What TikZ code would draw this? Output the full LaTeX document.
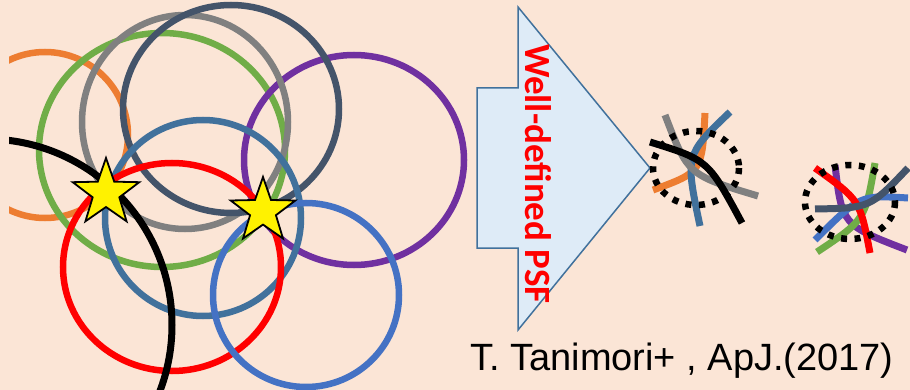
\documentclass[tikz,border=0pt]{standalone}
\usepackage{fontspec}
\setmainfont{Liberation Sans}
\newfontfamily\calib{Carlito}
\usetikzlibrary{shapes.geometric}
\definecolor{bgpeach}{HTML}{FBE5D6}
\definecolor{corange}{HTML}{ED7D31}
\definecolor{cgreen}{HTML}{70AD47}
\definecolor{cgray}{HTML}{808080}
\definecolor{cdark}{HTML}{44546A}
\definecolor{cpurple}{HTML}{7030A0}
\definecolor{csteel}{HTML}{41719C}
\definecolor{cred}{HTML}{FF0000}
\definecolor{cblue}{HTML}{4472C4}
\definecolor{afill}{HTML}{DEEBF7}
\tikzset{
  ring/.style={line width=6.5pt},
  zline/.style={line width=7pt},
  dotring/.style={line width=6.5pt, black, dash pattern=on 6pt off 7.5pt},
  starnode/.style={star, star points=5, star point ratio=2.5, minimum size=70pt, inner sep=0pt, draw=black, line width=1.8pt, fill=yellow},
  arrowbox/.style={fill=afill, draw=csteel, line width=1.5pt, line join=miter},
}
\begin{document}
\begin{tikzpicture}[x=1pt,y=-1pt]
\fill[bgpeach] (0,0) rectangle (910,390);
\useasboundingbox (0,0) rectangle (910,390);
% main circles
\begin{scope}
\clip (9,0) rectangle (475,390);
\draw[ring, corange] (45,135) ellipse [x radius=83, y radius=83];
\draw[ring, cgreen] (162,150) ellipse [x radius=123, y radius=117];
\draw[ring, cpurple] (354,160) ellipse [x radius=110, y radius=105];
\draw[ring, cgray] (185,122) ellipse [x radius=103, y radius=107];
\draw[ring, cdark] (231,109) ellipse [x radius=108, y radius=104];
\draw[ring, csteel] (203,218) ellipse [x radius=98, y radius=98];
\draw[ring, cred] (172,267) ellipse [x radius=109, y radius=104];
\draw[ring, cblue] (306,295) ellipse [x radius=93, y radius=92];
\draw[ring, black, line width=7pt] (-14,325) circle [radius=186];
\end{scope}
\node[starnode] (s1) at (106,193) {};
\node[starnode, minimum size=68pt] (s2) at (263,211) {};
% arrow
\path[arrowbox] (477,88) -- (518,88) -- (518,7) -- (650,168) -- (518,330) -- (518,248) -- (477,248) -- cycle;
\node[rotate=-90, anchor=base, text=cred, inner sep=0pt] (lbl) at (525,174) {\calib\bfseries\fontsize{37}{44}\selectfont Well-defined PSF};
% zoom image 1
\draw[zline, corange] (705,113) .. controls (702,172) .. (653,190);
\draw[zline, csteel] (730,112) .. controls (685,155) .. (700,226);
\draw[zline, cgray] (665,115) .. controls (688,175) .. (758,196);
\draw[zline, black] (650,142) .. controls (708,160) .. (742,223);
\draw[dotring] (696,168) ellipse [x radius=43, y radius=37];
% zoom image 2
\draw[zline, cpurple] (835,165) .. controls (842,225) .. (907,250);
\draw[zline, cgreen] (875,163) .. controls (865,220) .. (817,252);
\draw[zline, cblue] (815,240) .. controls (860,195) .. (908,198);
\draw[zline, cred] (815,168) .. controls (860,200) .. (870,253);
\draw[zline, cdark] (815,209) .. controls (870,208) .. (908,168);
\draw[dotring] (850,202) ellipse [x radius=45, y radius=37];
% citation
\node[anchor=base west, inner sep=0pt] (cite) at (470,370) {\fontsize{38}{44}\selectfont T. Tanimori+ , ApJ.(2017)};
\end{tikzpicture}
\end{document}
